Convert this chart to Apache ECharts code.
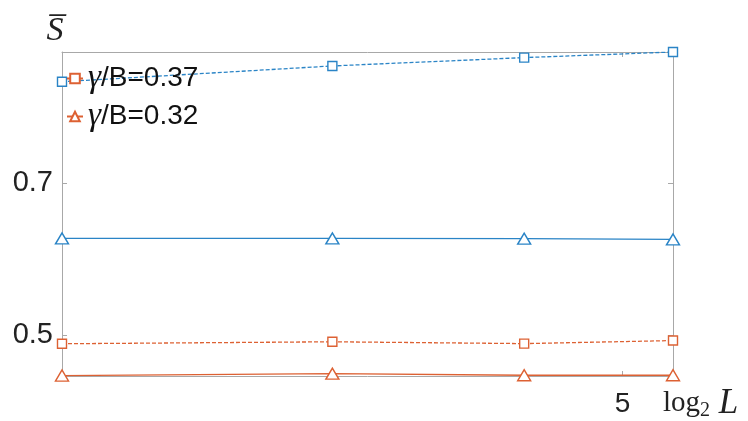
<!DOCTYPE html>
<html><head><meta charset="utf-8">
<script src="https://cdn.jsdelivr.net/npm/echarts@6/dist/echarts.min.js"></script>
<style>html,body{margin:0;padding:0;background:#fff}#c{width:748px;height:421px}</style>
</head><body><div id="c"></div>
<script>
const xLog2L = [3.787, 4.372, 4.787, 5.109];
const blueSquare = [0.8340, 0.8548, 0.8658, 0.8732];
const blueTriangle = [0.6275, 0.6275, 0.6272, 0.6262];
const orangeSquare = [0.4886, 0.4912, 0.4888, 0.4928];
const orangeTriangle = [0.4467, 0.4492, 0.4471, 0.4471];
const legendNames = ['γ/B=0.37', 'γ/B=0.32'];
const xTicks = [5];
const yTicks = [0.5, 0.7];

const BLUE = '#2a84c6', ORANGE = '#dd6133', AX = '#a8a8a8';
const pairs = a => xLog2L.map((x, i) => [x, a[i]]);
const tri = 'path://M0,10 L5,0 L10,10 Z';

const chart = echarts.init(document.getElementById('c'));
const mkSeries = (name, data, color, sym, dashed, size) => ({
  name, type: 'line', data: pairs(data), symbol: sym, symbolSize: size,
  showSymbol: true, animation: false,
  lineStyle: { color, width: 1.3, type: dashed ? [4, 2] : 'solid' },
  itemStyle: { color: '#fff', borderColor: color, borderWidth: 1.4 },
  emphasis: { disabled: true }
});
chart.setOption({
  animation: false,
  grid: { left: 62, right: 75, top: 52, bottom: 45, show: false },
  legend: {
    data: legendNames, orient: 'vertical', left: 61, top: 57, itemGap: 5,
    itemWidth: 16, itemHeight: 12,
    formatter: n => '{g|γ}{t|' + n.slice(1) + '}',
    textStyle: { rich: {
      g: { fontFamily: 'Liberation Serif', fontStyle: 'italic', fontSize: 33, color: '#111' },
      t: { fontFamily: 'Liberation Sans', fontSize: 28, color: '#111' }
    } }
  },
  xAxis: [{
    type: 'value', min: xLog2L[0], max: xLog2L[xLog2L.length - 1],
    axisLine: { lineStyle: { color: AX, width: 1 } },
    splitLine: { show: false },
    axisTick: { inside: true, length: 5, customValues: xTicks, lineStyle: { color: AX } },
    axisLabel: { customValues: xTicks, fontFamily: 'Liberation Sans', fontSize: 28, color: '#222', margin: 14 },
    name: '{a|log}{s|2}{b| L}', nameLocation: 'end', nameGap: -10,
    nameTextStyle: { align: 'left', verticalAlign: 'top', padding: [10, 0, 0, 0],
      rich: {
        a: { fontFamily: 'Liberation Serif', fontSize: 29, color: '#222' },
        s: { fontFamily: 'Liberation Serif', fontSize: 20, color: '#222', verticalAlign: 'bottom', padding: [12, 0, 0, 0] },
        b: { fontFamily: 'Liberation Serif', fontStyle: 'italic', fontSize: 35, color: '#222' }
      } }
  }, {
    type: 'value', position: 'top', min: xLog2L[0], max: xLog2L[xLog2L.length - 1],
    axisLine: { show: true, lineStyle: { color: AX, width: 1 } },
    splitLine: { show: false },
    axisTick: { inside: true, length: 5, customValues: xTicks, lineStyle: { color: AX } },
    axisLabel: { show: false }
  }],
  yAxis: [{
    type: 'value', min: 0.4461, max: 0.8732,
    axisLine: { show: true, lineStyle: { color: AX, width: 1 } },
    splitLine: { show: false },
    axisTick: { show: true, inside: true, length: 5, customValues: yTicks, lineStyle: { color: AX } },
    axisLabel: { customValues: yTicks, fontFamily: 'Liberation Sans', fontSize: 29, color: '#222', margin: 9 },
    name: 'S\u0305', nameLocation: 'end', nameGap: 4,
    nameTextStyle: { fontFamily: 'Liberation Serif', fontStyle: 'italic', fontSize: 34, color: '#222', padding: [0, 14, 0, 0] }
  }, {
    type: 'value', position: 'right', min: 0.4461, max: 0.8732,
    axisLine: { show: true, lineStyle: { color: AX, width: 1 } },
    splitLine: { show: false },
    axisTick: { show: true, inside: true, length: 5, customValues: yTicks, lineStyle: { color: AX } },
    axisLabel: { show: false }
  }],
  series: [
    mkSeries('blue037', blueSquare, BLUE, 'rect', true, 9),
    mkSeries('blue032', blueTriangle, BLUE, tri, false, [13, 11]),
    mkSeries(legendNames[0], orangeSquare, ORANGE, 'rect', true, 9),
    mkSeries(legendNames[1], orangeTriangle, ORANGE, tri, false, [13, 11])
  ]
});
</script></body></html>
